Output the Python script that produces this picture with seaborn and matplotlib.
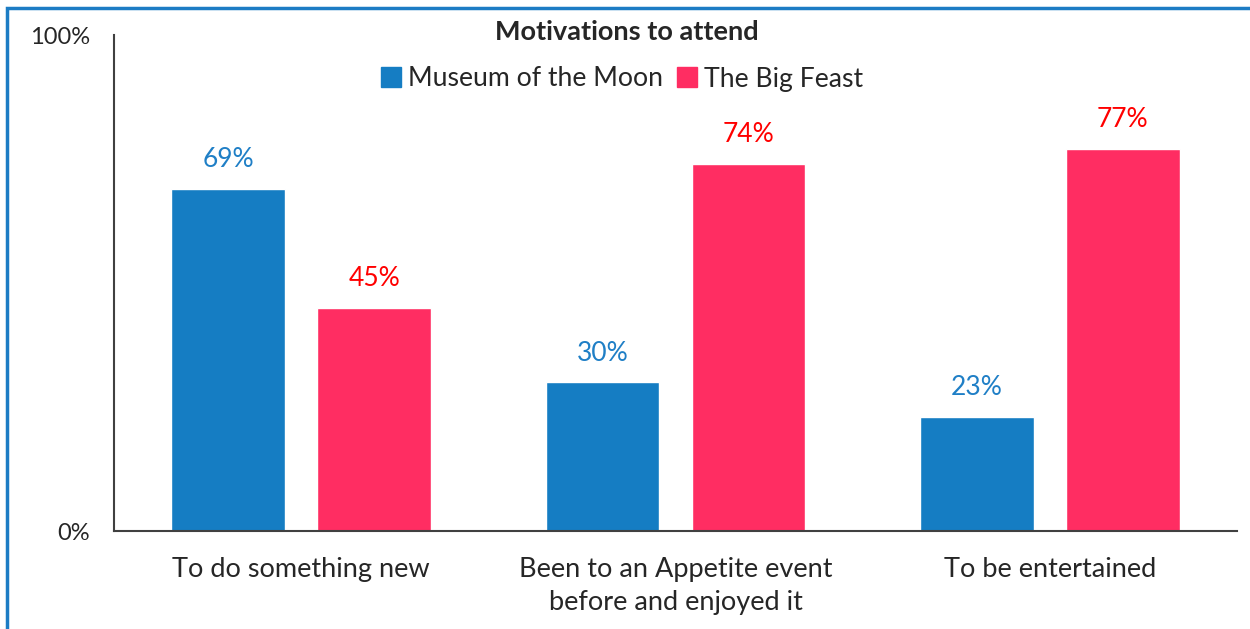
import numpy as np
import pandas as pd
import matplotlib.pyplot as plt
import seaborn as sns
from matplotlib.patches import Rectangle

# Data
categories = ["To do something new", "Been to an Appetite event\nbefore and enjoyed it", "To be entertained"]
museum_moon = [69, 30, 23]
big_feast = [45, 74, 77]
series_names = ["Museum of the Moon", "The Big Feast"]
bar_colors = ["#157DC3", "#FF2D62"]
label_colors = ["#1F7FC6", "#FF0000"]

df = pd.DataFrame({
    "category": categories * 2,
    "value": museum_moon + big_feast,
    "series": [series_names[0]] * 3 + [series_names[1]] * 3,
})

sns.set_style("white")
plt.rcParams['font.family'] = ['Lato', 'DejaVu Sans']

fig = plt.figure(figsize=(12.5, 6.29), dpi=100)
ax = fig.add_axes([114 / 1250, 1 - 531 / 629, (1237 - 114) / 1250, (531 - 35) / 629])

sns.barplot(data=df, x="category", y="value", hue="series", palette=bar_colors,
            width=0.78, gap=0.22, saturation=1, legend=False, ax=ax)

# value labels
for cont, col in zip(ax.containers, label_colors):
    ax.bar_label(cont, labels=[f"{v:.0f}%" for v in cont.datavalues],
                 padding=12, color=col, fontsize=19)

ax.set_ylim(0, 100)
ax.set_xlim(-0.5, 2.5)
ax.set_yticks([0, 100])
ax.set_yticklabels(["0%", "100%"], fontsize=17)
ax.tick_params(axis='y', length=0, pad=17.5)
ax.tick_params(axis='x', length=0, pad=19, labelsize=19.5)
ax.set_xlabel("")
ax.set_ylabel("")
for s in ["top", "right"]:
    ax.spines[s].set_visible(False)
for s in ["left", "bottom"]:
    ax.spines[s].set_color("#404040")
    ax.spines[s].set_linewidth(1.5)
for lbl in ax.get_xticklabels():
    lbl.set_linespacing(1.4)

# title and legend
fig.text(0.5016, 1 - 32 / 629, "Motivations to attend", ha="center", va="center",
         fontsize=19.5, fontweight="bold")
handles = [Rectangle((0, 0), 1, 1, color=c) for c in bar_colors]
fig.legend(handles, series_names, loc="center", bbox_to_anchor=(0.4976, 1 - 79 / 629),
           ncol=2, frameon=False, fontsize=19.2, handlelength=0.75, handleheight=0.75,
           handletextpad=0.25, columnspacing=0.55)

# outer frame (only left and top edges visible in the reference)
fig.patches.append(Rectangle((7 / 1250, -0.1), 1.2, 1 - 8 / 629 + 0.1,
                             transform=fig.transFigure, fill=False,
                             edgecolor="#1C7CC4", linewidth=2.5))

fig.savefig("out.png", dpi=100)
